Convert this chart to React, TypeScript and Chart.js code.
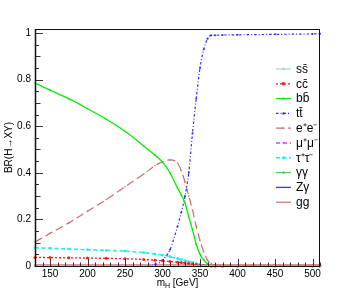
import React, { useEffect, useRef } from "react";
import { Chart, registerables } from "chart.js";
Chart.register(...registerables);

// ---------- data ----------
const masses = [130, 150, 175, 200, 225, 250, 275, 290, 300, 310, 320, 325, 330, 335, 340, 345, 350, 355, 360, 365, 370, 380, 400, 450, 500, 510];
const brSS = [0.0004, 0.0004, 0.0004, 0.0004, 0.0004, 0.0003, 0.0003, 0.0003, 0.0003, 0.0002, 0.0002, 0.0002, 0.0002, 0.0001, 0.0001, 0.0001, 0.0001, 0, 0, 0, 0, 0, 0, 0, 0, 0];
const brCC = [0.037, 0.036, 0.035, 0.034, 0.033, 0.031, 0.028, 0.025, 0.022, 0.019, 0.016, 0.0145, 0.013, 0.011, 0.008, 0.006, 0.004, 0.002, 0.001, 0.0005, 0.0003, 0.0003, 0.0003, 0.0003, 0.0003, 0.0003];
const brBB = [0.785, 0.755, 0.718, 0.675, 0.63, 0.578, 0.515, 0.475, 0.446, 0.4, 0.335, 0.305, 0.27, 0.21, 0.155, 0.092, 0.05, 0.025, 0.01, 0.003, 0.001, 0.0005, 0.0004, 0.0003, 0.0003, 0.0003];
const brTT = [0, 0, 0, 0, 0, 0, 0.001, 0.006, 0.025, 0.07, 0.17, 0.23, 0.3, 0.4, 0.57, 0.72, 0.85, 0.93, 0.975, 0.99, 0.99, 0.991, 0.992, 0.994, 0.996, 0.997];
const brEE = [0.103, 0.14, 0.185, 0.235, 0.285, 0.34, 0.395, 0.43, 0.448, 0.455, 0.442, 0.41, 0.36, 0.3, 0.24, 0.17, 0.11, 0.06, 0.025, 0.01, 0.005, 0.003, 0.003, 0.003, 0.003, 0.003];
const brMM = [0.0003, 0.0003, 0.0003, 0.0002, 0.0002, 0.0002, 0.0002, 0.0002, 0.0002, 0.0001, 0.0001, 0.0001, 0.0001, 0.0001, 0, 0, 0, 0, 0, 0, 0, 0, 0, 0, 0, 0];
const brTau = [0.078, 0.076, 0.073, 0.07, 0.067, 0.064, 0.057, 0.051, 0.047, 0.04, 0.032, 0.0275, 0.023, 0.019, 0.015, 0.01, 0.006, 0.003, 0.001, 0.0005, 0.0003, 0.0003, 0.0003, 0.0003, 0.0003, 0.0003];
const brGG = [0.002, 0.002, 0.002, 0.002, 0.002, 0.002, 0.002, 0.002, 0.002, 0.002, 0.002, 0.002, 0.002, 0.001, 0.001, 0.001, 0.001, 0.0005, 0.0003, 0.0002, 0.0001, 0.0001, 0.0001, 0.0001, 0.0001, 0.0001];
const brZG = [0.001, 0.001, 0.001, 0.001, 0.001, 0.001, 0.001, 0.001, 0.001, 0.001, 0.001, 0.001, 0.001, 0.001, 0.0005, 0.0005, 0.0005, 0.0003, 0.0002, 0.0001, 0.0001, 0.0001, 0.0001, 0.0001, 0.0001, 0.0001];
const brGluon = [0.005, 0.005, 0.005, 0.005, 0.005, 0.005, 0.005, 0.005, 0.005, 0.005, 0.005, 0.005, 0.005, 0.005, 0.005, 0.005, 0.005, 0.005, 0.005, 0.005, 0.005, 0.005, 0.005, 0.005, 0.005, 0.005];

const xMajorTicks = [150, 200, 250, 300, 350, 400, 450, 500];
const yMajorTicks = [0, 0.2, 0.4, 0.6, 0.8, 1];
const seriesLabels = ["ss\u0304", "cc\u0304", "bb\u0304", "tt\u0304", "e\u207Ae\u207B", "\u03BC\u207A\u03BC\u207B", "\u03C4\u207A\u03C4\u207B", "\u03B3\u03B3", "Z\u03B3", "gg"];
const xTitleMain = "m";
const xTitleSub = "H";
const xTitleRest = " [GeV]";
const yTitle = "BR(H\u2192XY)";

const FONT = '"Liberation Sans", Arial, Helvetica, sans-serif';

export default function App() {
  const ref = useRef<HTMLCanvasElement>(null);

  useEffect(() => {
    if (!ref.current) return;
    const values = [brSS, brCC, brBB, brTT, brEE, brMM, brTau, brGG, brZG, brGluon];
    const styles = [
      { color: "#a3d3c3", width: 1.2, dash: [] as number[], pr: 1.1 },
      { color: "#ff1a1a", width: 1.3, dash: [2, 2], pr: 1.5 },
      { color: "#00ee00", width: 1.3, dash: [], pr: 0.8 },
      { color: "#2b2bff", width: 1.2, dash: [2.5, 2, 1, 2], pr: 1.0 },
      { color: "#d06b6b", width: 1.2, dash: [8, 4], pr: 0.8 },
      { color: "#ff33ff", width: 1.3, dash: [4, 3], pr: 0.8 },
      { color: "#1ef0f0", width: 1.6, dash: [4, 2.5], pr: 1.4 },
      { color: "#55cc55", width: 1.2, dash: [], pr: 1.1 },
      { color: "#3c3cd8", width: 1.3, dash: [], pr: 0.5 },
      { color: "#d67070", width: 1.2, dash: [], pr: 0 },
    ];
    const datasets = values.map((arr, i) => ({
      label: seriesLabels[i],
      data: masses.map((m, k) => ({ x: m, y: arr[k] })),
      borderColor: styles[i].color,
      backgroundColor: styles[i].color,
      borderWidth: styles[i].width,
      borderDash: styles[i].dash,
      pointRadius: styles[i].pr,
      pointBorderWidth: 0,
      pointHoverRadius: 0,
      cubicInterpolationMode: "monotone" as const,
      fill: false,
      clip: 4,
    }));

    const rootPlugin = {
      id: "rootFrame",
      afterDraw(chart: any) {
        const ctx = chart.ctx as CanvasRenderingContext2D;
        const { left, right, top, bottom } = chart.chartArea;
        const xs = chart.scales.x;
        const ys = chart.scales.y;
        ctx.save();
        // ticks
        ctx.strokeStyle = "#333";
        ctx.lineWidth = 1;
        ctx.setLineDash([]);
        ctx.beginPath();
        for (let m = 140; m <= 510; m += 10) {
          const px = Math.round(xs.getPixelForValue(m)) + 0.5;
          const len = m % 50 === 0 ? 7 : 3.5;
          ctx.moveTo(px, bottom);
          ctx.lineTo(px, bottom - len);
        }
        for (let k = 1; k <= 20; k++) {
          const v = k * 0.05;
          const py = Math.round(ys.getPixelForValue(v)) + 0.5;
          const len = k % 4 === 0 ? 8 : k % 2 === 0 ? 5.5 : 4;
          ctx.moveTo(left, py);
          ctx.lineTo(left + len, py);
        }
        ctx.stroke();
        // frame
        ctx.strokeStyle = "#111";
        ctx.lineWidth = 1;
        ctx.strokeRect(Math.round(left) + 0.5, Math.round(top) + 0.5, Math.round(right - left) - 1, Math.round(bottom - top));
        ctx.beginPath();
        ctx.lineWidth = 1.5;
        ctx.moveTo(left + 0.5, top);
        ctx.lineTo(left + 0.5, bottom + 1);
        ctx.stroke();

        // titles
        ctx.fillStyle = "#000";
        ctx.font = `10px ${FONT}`;
        ctx.save();
        ctx.translate(9, (top + bottom) / 2);
        ctx.rotate(-Math.PI / 2);
        ctx.textAlign = "center";
        ctx.textBaseline = "middle";
        ctx.fillText(yTitle, 0, 0);
        ctx.restore();

        ctx.textAlign = "left";
        ctx.textBaseline = "alphabetic";
        const w1 = ctx.measureText(xTitleMain).width;
        ctx.font = `7px ${FONT}`;
        const w2 = ctx.measureText(xTitleSub).width;
        ctx.font = `10px ${FONT}`;
        const w3 = ctx.measureText(xTitleRest).width;
        const x0 = (left + right) / 2 - (w1 + w2 + w3) / 2;
        const base = 286;
        ctx.fillText(xTitleMain, x0, base);
        ctx.font = `7px ${FONT}`;
        ctx.fillText(xTitleSub, x0 + w1, base + 2);
        ctx.font = `10px ${FONT}`;
        ctx.fillText(xTitleRest, x0 + w1 + w2, base);

        // legend
        const lx0 = right - 44;
        const lx1 = right - 29;
        const ly0 = top + 40;
        chart.data.datasets.forEach((ds: any, i: number) => {
          const y = ly0 + i * 14.8;
          ctx.strokeStyle = ds.borderColor;
          ctx.lineWidth = ds.borderWidth;
          ctx.setLineDash(ds.borderDash || []);
          ctx.beginPath();
          ctx.moveTo(lx0, y);
          ctx.lineTo(lx1, y);
          ctx.stroke();
          ctx.setLineDash([]);
          if (ds.pointRadius > 0) {
            ctx.fillStyle = ds.borderColor;
            ctx.beginPath();
            ctx.arc((lx0 + lx1) / 2, y, ds.pointRadius + 0.2, 0, Math.PI * 2);
            ctx.fill();
          }
          ctx.fillStyle = "#000";
          ctx.font = `12px ${FONT}`;
          ctx.textAlign = "left";
          ctx.textBaseline = "middle";
          ctx.fillText(ds.label, right - 24, y + 0.5);
        });
        ctx.restore();
      },
    };

    const chart = new Chart(ref.current, {
      type: "line",
      data: { datasets: datasets as any },
      options: {
        animation: false,
        responsive: false,
        maintainAspectRatio: false,
        events: [],
        layout: { padding: { left: 0, top: 29, right: 35, bottom: 0 } },
        plugins: { legend: { display: false }, tooltip: { enabled: false }, title: { display: false } },
        scales: {
          x: {
            type: "linear",
            min: 130,
            max: 510,
            grid: { display: false, drawTicks: false },
            border: { display: false },
            ticks: { font: { family: FONT, size: 10 }, color: "#000", padding: 2, maxRotation: 0, autoSkip: false },
            afterBuildTicks: (axis: any) => {
              axis.ticks = xMajorTicks.map((v) => ({ value: v }));
            },
            afterFit: (axis: any) => {
              axis.height = 29;
            },
          },
          y: {
            type: "linear",
            min: 0,
            max: 1.017,
            grid: { display: false, drawTicks: false },
            border: { display: false },
            ticks: {
              font: { family: FONT, size: 10 },
              color: "#000",
              padding: 4,
              autoSkip: false,
              callback: (v: any) => String(Number(v)),
            },
            afterBuildTicks: (axis: any) => {
              axis.ticks = yMajorTicks.map((v) => ({ value: v }));
            },
            afterFit: (axis: any) => {
              axis.width = 35;
            },
          },
        },
      },
      plugins: [rootPlugin],
    });
    return () => chart.destroy();
  }, []);

  return (
    <div style={{ position: "fixed", left: 0, top: 0, width: 355, height: 295, background: "#fff" }}>
      <canvas ref={ref} width={355} height={295} style={{ display: "block", width: 355, height: 295 }} />
    </div>
  );
}
